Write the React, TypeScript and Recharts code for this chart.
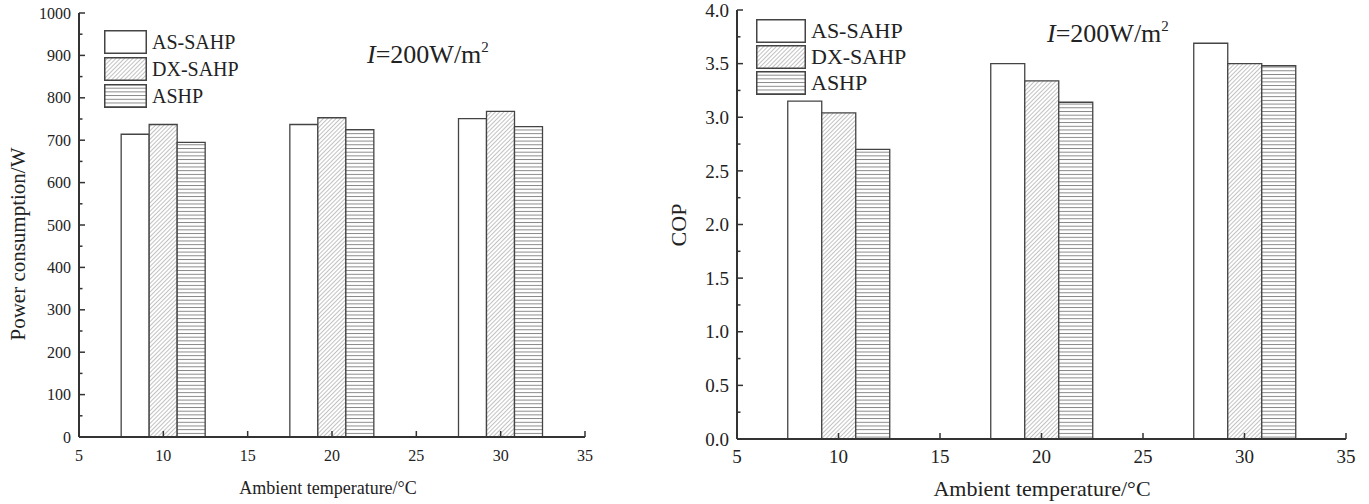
import React from "react";
import { ComposedChart, Bar, Line, XAxis, YAxis, Legend } from "recharts";

const temps = [10, 20, 30];
const xTicks = [5, 10, 15, 20, 25, 30, 35];
const seriesNames = ["AS-SAHP", "DX-SAHP", "ASHP"];

const powerAS = [714, 737, 751];
const powerDX = [737, 753, 768];
const powerASHP = [695, 725, 732];
const powerTicks = [0, 50, 100, 150, 200, 250, 300, 350, 400, 450, 500, 550, 600, 650, 700, 750, 800, 850, 900, 950, 1000];

const copAS = [3.15, 3.5, 3.69];
const copDX = [3.04, 3.34, 3.5];
const copASHP = [2.7, 3.14, 3.48];
const copTicks = [0, 0.25, 0.5, 0.75, 1, 1.25, 1.5, 1.75, 2, 2.25, 2.5, 2.75, 3, 3.25, 3.5, 3.75, 4];

const SERIF = "'Liberation Serif', 'Times New Roman', serif";
const AXIS = "#333";
const EDGE = "#444";
const TEXT = "#222";

const powerData = temps.map((t, i) => ({ t: String(t), x: t, as: powerAS[i], dx: powerDX[i], ashp: powerASHP[i] }));
const copData = temps.map((t, i) => ({ t: String(t), x: t, as: copAS[i], dx: copDX[i], ashp: copASHP[i] }));

function yTick(isMajor: (v: number) => boolean, fmt: (v: number) => string, fontSize: number) {
  return (props: any) => {
    const { x, y, payload } = props;
    const major = isMajor(payload.value);
    return (
      <g>
        <line x1={x} x2={x + (major ? 6 : 3.5)} y1={y} y2={y} stroke={AXIS} strokeWidth={1.5} />
        {major && (
          <text x={x - 8} y={y} dy="0.35em" textAnchor="end" fontSize={fontSize} fontFamily={SERIF} fill={TEXT}>
            {fmt(payload.value)}
          </text>
        )}
      </g>
    );
  };
}

function xTick(fontSize: number) {
  return (props: any) => {
    const { x, y, payload } = props;
    return (
      <g>
        <line x1={x} x2={x} y1={y} y2={y - 6} stroke={AXIS} strokeWidth={1.5} />
        <text x={x} y={y + 24} textAnchor="middle" fontSize={fontSize} fontFamily={SERIF} fill={TEXT}>
          {payload.value}
        </text>
      </g>
    );
  };
}

function legendContent(boxW: number, boxH: number, gap: number, fontSize: number) {
  return (props: any) => {
    const items = (props.payload || [])
      .filter((e: any) => seriesNames.includes(e.value))
      .sort((a: any, b: any) => seriesNames.indexOf(a.value) - seriesNames.indexOf(b.value));
    return (
      <div>
        {items.map((e: any) => (
          <div key={e.value} style={{ display: "flex", alignItems: "center", height: boxH, marginBottom: gap }}>
            <svg width={boxW} height={boxH} style={{ display: "block" }}>
              <rect x={0.75} y={0.75} width={boxW - 1.5} height={boxH - 1.5} fill={e.color} stroke={EDGE} strokeWidth={1.5} />
            </svg>
            <span style={{ marginLeft: 5, fontSize, fontFamily: SERIF, color: TEXT, lineHeight: 1 }}>{e.value}</span>
          </div>
        ))}
      </div>
    );
  };
}

const Note = ({ left, top }: { left: number; top: number }) => (
  <div style={{ position: "absolute", left, top, fontFamily: SERIF, fontSize: 26, color: TEXT, lineHeight: 1 }}>
    <i>I</i>=200W/m<sup style={{ fontSize: 15, verticalAlign: "11px" }}>2</sup>
  </div>
);

type PanelProps = {
  data: any[];
  width: number;
  margin: { top: number; right: number; left: number; bottom: number };
  yDomain: [number, number];
  yTicks: number[];
  yIsMajor: (v: number) => boolean;
  yFmt: (v: number) => string;
  tickFont: number;
  titleFont: number;
  xTitle: { x: number; y: number };
  yTitle: { x: number; y: number; text: string; size: number };
  legend: { left: number; top: number; boxW: number; gap: number; font: number };
};

function Panel(p: PanelProps) {
  return (
    <ComposedChart width={p.width} height={504} data={p.data} margin={p.margin} barCategoryGap="25%" barGap={0}>
      <XAxis xAxisId="cat" dataKey="t" hide height={0} />
      <XAxis
        xAxisId="num"
        dataKey="x"
        type="number"
        domain={[5, 35]}
        ticks={xTicks}
        allowDataOverflow
        interval={0}
        tickSize={0}
        tickMargin={0}
        tickLine={false}
        tick={xTick(p.tickFont)}
        axisLine={{ stroke: AXIS, strokeWidth: 2 }}
        height={30}
        label={{
          content: () => (
            <text x={p.xTitle.x} y={p.xTitle.y} textAnchor="middle" fontSize={p.titleFont} fontFamily={SERIF} fill={TEXT}>
              Ambient temperature/°C
            </text>
          ),
        }}
      />
      <YAxis
        domain={p.yDomain}
        ticks={p.yTicks}
        allowDataOverflow
        interval={0}
        width={60}
        tickSize={0}
        tickMargin={0}
        tickLine={false}
        tick={yTick(p.yIsMajor, p.yFmt, p.tickFont)}
        axisLine={{ stroke: AXIS, strokeWidth: 2 }}
        label={{
          content: () => (
            <text
              x={p.yTitle.x}
              y={p.yTitle.y}
              transform={`rotate(-90 ${p.yTitle.x} ${p.yTitle.y})`}
              textAnchor="middle"
              fontSize={p.yTitle.size}
              fontFamily={SERIF}
              fill={TEXT}
            >
              {p.yTitle.text}
            </text>
          ),
        }}
      />
      <Legend
        layout="vertical"
        align="center"
        verticalAlign="middle"
        content={legendContent(p.legend.boxW, 24, p.legend.gap, p.legend.font)}
        wrapperStyle={{ left: p.legend.left, top: p.legend.top, width: "auto", height: "auto" }}
      />
      <Bar xAxisId="cat" dataKey="as" name={seriesNames[0]} fill="#fff" stroke={EDGE} strokeWidth={1.3} isAnimationActive={false} />
      <Bar xAxisId="cat" dataKey="dx" name={seriesNames[1]} fill="url(#diag)" stroke={EDGE} strokeWidth={1.3} isAnimationActive={false} />
      <Bar xAxisId="cat" dataKey="ashp" name={seriesNames[2]} fill="url(#horiz)" stroke={EDGE} strokeWidth={1.3} isAnimationActive={false} />
      {/* invisible series so the numeric temperature axis gets a domain */}
      <Line xAxisId="num" dataKey="as" stroke="none" dot={false} activeDot={false} legendType="none" isAnimationActive={false} />
    </ComposedChart>
  );
}

export default function App() {
  return (
    <div style={{ position: "absolute", left: 0, top: 0, width: 1369, height: 504, background: "#fff" }}>
      <svg width={0} height={0} style={{ position: "absolute" }}>
        <defs>
          <pattern id="diag" patternUnits="userSpaceOnUse" width={3} height={3} patternTransform="rotate(45)">
            <rect width={3} height={3} fill="#fff" />
            <line x1={0} y1={0} x2={0} y2={3} stroke="#777" strokeWidth={0.9} />
          </pattern>
          <pattern id="horiz" patternUnits="userSpaceOnUse" width={4} height={3.7}>
            <rect width={4} height={3.7} fill="#fff" />
            <line x1={0} y1={0.5} x2={4} y2={0.5} stroke="#777" strokeWidth={0.9} />
          </pattern>
        </defs>
      </svg>

      <div style={{ position: "absolute", left: 0, top: 0 }}>
        <Panel
          data={powerData}
          width={640}
          margin={{ top: 13, right: 55, left: 19, bottom: 37 }}
          yDomain={[0, 1000]}
          yTicks={powerTicks}
          yIsMajor={(v) => v % 100 === 0}
          yFmt={(v) => String(v)}
          tickFont={16}
          titleFont={18}
          xTitle={{ x: 328, y: 494 }}
          yTitle={{ x: 25, y: 244, text: "Power consumption/W", size: 21 }}
          legend={{ left: 104, top: 30, boxW: 43, gap: 3, font: 20 }}
        />
      </div>
      <Note left={367} top={40} />

      <div style={{ position: "absolute", left: 640, top: 0 }}>
        <Panel
          data={copData}
          width={729}
          margin={{ top: 10, right: 23, left: 37, bottom: 35 }}
          yDomain={[0, 4]}
          yTicks={copTicks}
          yIsMajor={(v) => Math.abs(v * 2 - Math.round(v * 2)) < 1e-6}
          yFmt={(v) => v.toFixed(1)}
          tickFont={19}
          titleFont={22}
          xTitle={{ x: 402, y: 496 }}
          yTitle={{ x: 46, y: 225, text: "COP", size: 22 }}
          legend={{ left: 116, top: 19, boxW: 50, gap: 2, font: 22 }}
        />
      </div>
      <Note left={1047} top={19} />
    </div>
  );
}
